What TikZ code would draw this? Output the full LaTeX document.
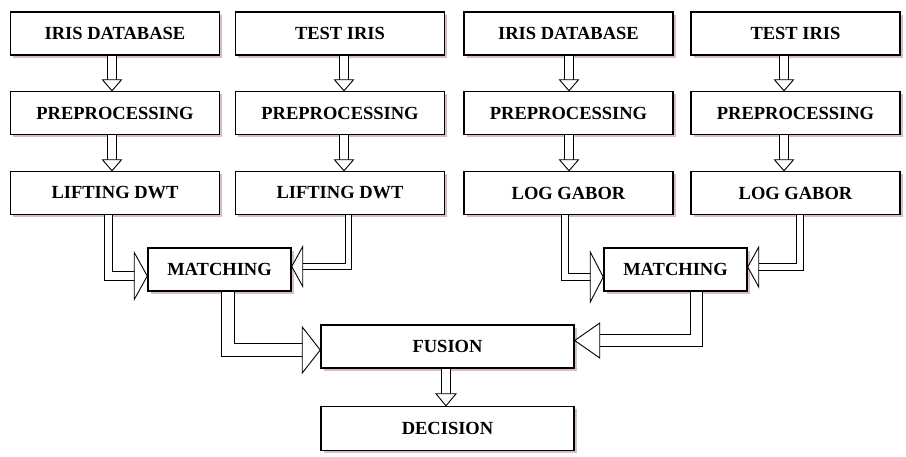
\documentclass[tikz,border=0pt]{standalone}
\usepackage{fontspec}
\setmainfont{Liberation Serif}
\usetikzlibrary{shadows}

\definecolor{shadowred}{RGB}{170,110,110}
\tikzset{
  block/.style={draw=black, line width=1.5pt, fill=white, inner sep=0pt,
    minimum width=209pt, minimum height=43pt,
    font=\fontsize{18.5}{20}\selectfont\bfseries,
    drop shadow={shadow xshift=2.5pt, shadow yshift=-2.5pt, fill=shadowred, opacity=0.45}},
  pipe/.style={draw=black, line width=0.9pt, double=white, double distance=#1},
  head/.style={draw=black, fill=white, line width=0.9pt, line join=miter}
}
% arrow heads: tip position, length, width
\newcommand{\dhead}[3]{\draw[head] (#1) -- ++(-#3/2,-#2) -- ++(#3,0) -- cycle;}
\newcommand{\rhead}[3]{\draw[head] (#1) -- ++(-#2,-#3/2) -- ++(0,#3) -- cycle;}
\newcommand{\lhead}[3]{\draw[head] (#1) -- ++(#2,-#3/2) -- ++(0,#3) -- cycle;}

\begin{document}
\begin{tikzpicture}[x=1pt,y=-1pt]
        \useasboundingbox (0,0) rectangle (906,456);
        % input blocks
        \node[block] at (115,33.5) (db1) {IRIS DATABASE};
        \node[block] at (340,33.5) (ti1) {TEST IRIS};
        \node[block] at (568.5,33.5) (db2) {IRIS DATABASE};
        \node[block] at (795.5,33.5) (ti2) {TEST IRIS};
        % preprocessing
        \node[block] at (115,113) (pp1) {PREPROCESSING};
        \node[block] at (340,113) (pp2) {PREPROCESSING};
        \node[block] at (568.5,113) (pp3) {PREPROCESSING};
        \node[block] at (795.5,113) (pp4) {PREPROCESSING};
        % features
        \node[block] at (115,193) (lw1) {LIFTING DWT};
        \node[block] at (340,193) (lw2) {LIFTING DWT};
        \node[block] at (568.5,193) (lg1) {LOG GABOR};
        \node[block] at (795.5,193) (lg2) {LOG GABOR};
        % matching, fusion, decision
        \node[block,minimum width=143pt] at (219.5,269.5) (mt1) {MATCHING};
        \node[block,minimum width=143pt] at (675.5,269.5) (mt2) {MATCHING};
        \node[block,minimum width=253pt] at (447.5,346.5) (fu) {FUSION};
        \node[block,minimum width=253pt,minimum height=44pt] at (447.5,428.5) (de) {DECISION};
        % small down arrows in each column
        \foreach \a/\b/\s in {db1/pp1/-3,pp1/lw1/-3,ti1/pp2/4,pp2/lw2/4,
                              db2/pp3/0.5,pp3/lg1/0.5,ti2/pp4/-11.5,pp4/lg2/-11.5}{
            \draw[pipe=8pt] ([xshift=\s pt]\a.south) -- ([xshift=\s pt,yshift=10pt]\b.north);
            \dhead{[xshift=\s pt]\b.north}{11}{19}
        }
        % into left matching
        \draw[pipe=7.5pt] ([xshift=-6.5pt]lw1.south) |- ([xshift=-12pt,yshift=-6.5pt]mt1.west);
        \rhead{[yshift=-6.5pt]mt1.west}{13}{47}
        \draw[pipe=5.5pt] ([xshift=8.5pt]lw2.south) |- ([xshift=10pt,yshift=3pt]mt1.east);
        \lhead{[yshift=3pt]mt1.east}{11}{40}
        % into right matching
        \draw[pipe=6.5pt] ([xshift=-3.5pt]lg1.south) |- ([xshift=-12pt,yshift=-7.5pt]mt2.west);
        \rhead{[yshift=-7.5pt]mt2.west}{13}{50}
        \draw[pipe=5.5pt] ([xshift=4.5pt]lg2.south) |- ([xshift=10pt,yshift=2.5pt]mt2.east);
        \lhead{[yshift=2.5pt]mt2.east}{11}{40}
        % matching to fusion
        \draw[pipe=12pt] ([xshift=8.5pt]mt1.south) |- ([xshift=-17pt,yshift=-3.5pt]fu.west);
        \rhead{[yshift=-3.5pt]fu.west}{18}{46}
        \draw[pipe=11pt] ([xshift=21pt]mt2.south) |- ([xshift=24pt,yshift=6pt]fu.east);
        \lhead{[yshift=6pt]fu.east}{25}{35}
        % fusion to decision
        \draw[pipe=8pt] ([xshift=-1.5pt]fu.south) -- ([xshift=-1.5pt,yshift=11pt]de.north);
        \dhead{[xshift=-1.5pt]de.north}{12}{20}
\end{tikzpicture}
\end{document}
